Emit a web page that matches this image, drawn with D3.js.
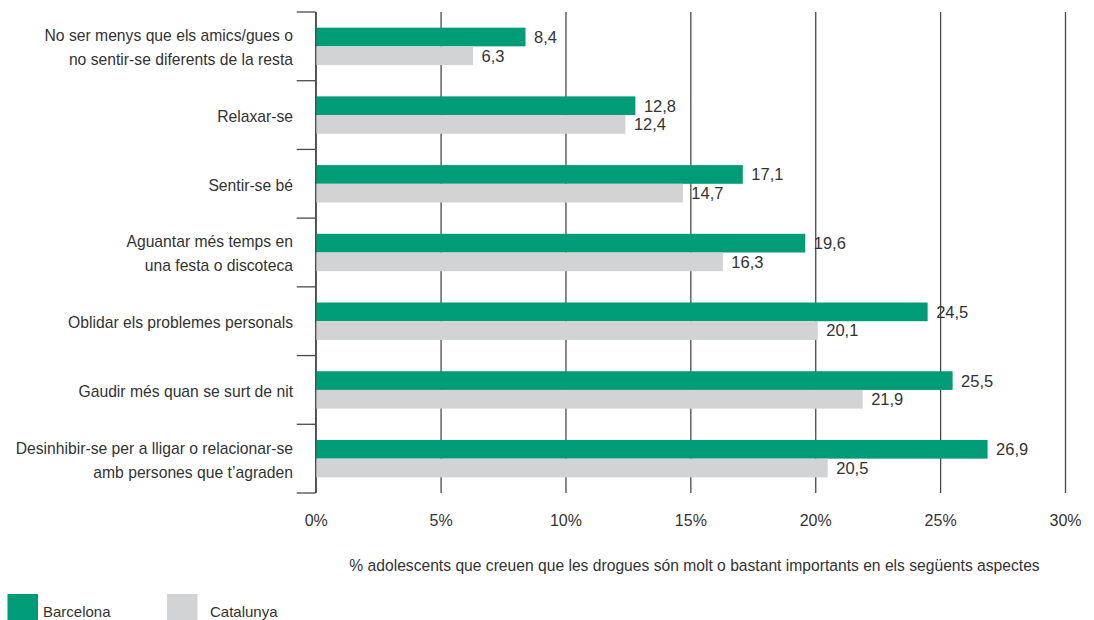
<!DOCTYPE html>
<html>
<head>
<meta charset="utf-8">
<script src="https://cdn.jsdelivr.net/npm/d3@7"></script>
<style>
  html, body { margin: 0; padding: 0; background: #fff; }
  svg { display: block; font-family: "Liberation Sans", Arial, sans-serif; }
</style>
</head>
<body>
<svg id="chart" width="1094" height="620"></svg>
<script>
const categories = [
  "No ser menys que els amics/gues o\nno sentir-se diferents de la resta",
  "Relaxar-se",
  "Sentir-se bé",
  "Aguantar més temps en\nuna festa o discoteca",
  "Oblidar els problemes personals",
  "Gaudir més quan se surt de nit",
  "Desinhibir-se per a lligar o relacionar-se\namb persones que t’agraden"
];
const barcelona = [8.4, 12.8, 17.1, 19.6, 24.5, 25.5, 26.9];
const catalunya = [6.3, 12.4, 14.7, 16.3, 20.1, 21.9, 20.5];
const seriesNames = ["Barcelona", "Catalunya"];
const tickValues = [0, 5, 10, 15, 20, 25, 30];
const tickLabels = ["0%", "5%", "10%", "15%", "20%", "25%", "30%"];
const axisTitle = "% adolescents que creuen que les drogues són molt o bastant importants en els següents aspectes";

const colors = { Barcelona: "#009B77", Catalunya: "#D1D3D4" };
const textColor = "#333333";
const gridColor = "#4a4a4a";

const svg = d3.select("#chart");
const plotTop = 12, plotBottom = 493, plotLeft = 315.7, plotRight = 1065;

const x = d3.scaleLinear().domain([0, 30]).range([plotLeft, plotRight]);
const y = d3.scaleBand().domain(categories).range([plotTop, plotBottom]).padding(0);
const barH = y.bandwidth() * 0.272;

// vertical gridlines + tick labels
const xAxis = d3.axisBottom(x)
  .tickValues(tickValues)
  .tickFormat((d, i) => tickLabels[i])
  .tickSizeInner(-(plotBottom - plotTop))
  .tickSizeOuter(0)
  .tickPadding(22);

const gx = svg.append("g")
  .attr("transform", `translate(0,${plotBottom})`)
  .call(xAxis);
gx.select(".domain").remove();
gx.selectAll(".tick line").attr("stroke", gridColor).attr("stroke-width", 1.3);
gx.selectAll(".tick text")
  .attr("fill", textColor)
  .style("font-size", "16px")
  .style("font-family", "'Liberation Sans', Arial, sans-serif");

// bars
const rows = categories.map((c, i) => ({ c, b: barcelona[i], k: catalunya[i] }));
const g = svg.append("g");

g.selectAll("rect.bcn").data(rows).join("rect")
  .attr("class", "bcn")
  .attr("x", x(0))
  .attr("y", d => y(d.c) + y.bandwidth() / 2 - barH)
  .attr("width", d => x(d.b) - x(0))
  .attr("height", barH)
  .attr("fill", colors.Barcelona);

g.selectAll("rect.cat").data(rows).join("rect")
  .attr("class", "cat")
  .attr("x", x(0))
  .attr("y", d => y(d.c) + y.bandwidth() / 2)
  .attr("width", d => x(d.k) - x(0))
  .attr("height", barH)
  .attr("fill", colors.Catalunya);

const fmt = v => v.toFixed(1).replace(".", ",");

g.selectAll("text.vb").data(rows).join("text")
  .attr("class", "vb")
  .attr("x", d => x(d.b) + 8.5)
  .attr("y", d => y(d.c) + y.bandwidth() / 2 - barH / 2)
  .attr("dy", "0.36em")
  .attr("fill", textColor)
  .style("font-size", "16.5px")
  .text(d => fmt(d.b));

g.selectAll("text.vk").data(rows).join("text")
  .attr("class", "vk")
  .attr("x", d => x(d.k) + 8.5)
  .attr("y", d => y(d.c) + y.bandwidth() / 2 + barH / 2)
  .attr("dy", "0.36em")
  .attr("fill", textColor)
  .style("font-size", "16.5px")
  .text(d => fmt(d.k));

// left axis line with ticks at band boundaries
const ga = svg.append("g");
ga.append("line")
  .attr("x1", x(0)).attr("x2", x(0))
  .attr("y1", plotTop).attr("y2", plotBottom)
  .attr("stroke", gridColor).attr("stroke-width", 1.3);
const bounds = categories.map(c => y(c)).concat([y(categories[categories.length - 1]) + y.bandwidth()]);
ga.selectAll("line.bt").data(bounds).join("line")
  .attr("class", "bt")
  .attr("x1", x(0) - 19).attr("x2", x(0))
  .attr("y1", d => d).attr("y2", d => d)
  .attr("stroke", gridColor).attr("stroke-width", 1.3);

// category labels
const lineH = 24;
const cl = svg.append("g");
categories.forEach(c => {
  const lines = c.split("\n");
  const cy = y(c) + y.bandwidth() / 2 + 1;
  const t = cl.append("text")
    .attr("text-anchor", "end")
    .attr("fill", textColor)
    .style("font-size", "15.7px");
  lines.forEach((ln, j) => {
    t.append("tspan")
      .attr("x", 293)
      .attr("y", cy + (j - (lines.length - 1) / 2) * lineH)
      .attr("dy", "0.38em")
      .text(ln);
  });
});

// axis title
svg.append("text")
  .attr("x", 694.5)
  .attr("y", 571)
  .attr("text-anchor", "middle")
  .attr("fill", textColor)
  .style("font-size", "15.65px")
  .text(axisTitle);

// legend
const legX = [7.5, 167];
seriesNames.forEach((s, i) => {
  svg.append("rect")
    .attr("x", legX[i]).attr("y", 594)
    .attr("width", 30.5).attr("height", 26)
    .attr("fill", colors[s]);
  svg.append("text")
    .attr("x", legX[i] + (i === 0 ? 35.5 : 43))
    .attr("y", 616.5)
    .attr("fill", textColor)
    .style("font-size", "15px")
    .text(s);
});
</script>
</body>
</html>
